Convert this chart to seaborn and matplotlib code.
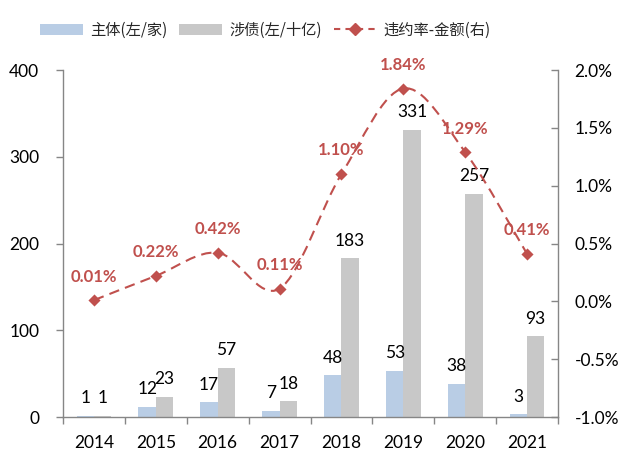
import numpy as np
import pandas as pd
import matplotlib
matplotlib.use("Agg")
import matplotlib.pyplot as plt
import seaborn as sns
from matplotlib.path import Path
from matplotlib.patches import PathPatch, Patch
from matplotlib.lines import Line2D
from matplotlib.ticker import FuncFormatter, FixedLocator

# ---- data ----
years = ["2014", "2015", "2016", "2017", "2018", "2019", "2020", "2021"]
entities = [1, 12, 17, 7, 48, 53, 38, 3]            # 主体(左/家)
bonds = [1, 23, 57, 18, 183, 331, 257, 93]           # 涉债(左/十亿)
default_rate = [0.01, 0.22, 0.42, 0.11, 1.10, 1.84, 1.29, 0.41]  # 违约率-金额(右), %
series_names = ["主体(左/家)", "涉债(左/十亿)", "违约率-金额(右)"]

BLUE = "#B9CDE5"
GRAY = "#C8C8C8"
RED = "#C0504D"
AXC = "#868686"

sns.set_theme(style="white")
plt.rcParams['font.family'] = ['Lato', 'Noto Sans CJK SC', 'DejaVu Sans']

df = pd.DataFrame({
    "year": years * 2,
    "value": entities + bonds,
    "series": [series_names[0]] * len(years) + [series_names[1]] * len(years),
})

fig = plt.figure(figsize=(6.32, 4.65), dpi=100)
ax = fig.add_axes([63 / 632, 1 - 417 / 465, 495 / 632, 347 / 465])

sns.barplot(data=df, x="year", y="value", hue="series", palette=[BLUE, GRAY],
            width=0.56, saturation=1, linewidth=0, ax=ax, legend=False)

for cont in ax.containers:
    ax.bar_label(cont, fmt="%d", padding=7, fontsize=12.5, color="black")

ax.set_xlim(-0.5, len(years) - 0.5)
ax.set_ylim(0, 400)
ax.set_yticks([0, 100, 200, 300, 400])
ax.set_xlabel("")
ax.set_ylabel("")
ax.xaxis.set_minor_locator(FixedLocator(np.arange(-0.5, len(years), 1.0)))
ax.tick_params(axis="x", which="major", length=0, pad=13, labelsize=12.5, colors="black")
ax.tick_params(axis="x", which="minor", bottom=True, length=5, width=1, color=AXC, direction="out")
ax.tick_params(axis="y", left=True, length=5, width=1, color=AXC, direction="out",
               pad=12, labelsize=12.5, labelcolor="black")
for s in ["top", "right"]:
    ax.spines[s].set_visible(False)
for s in ["left", "bottom"]:
    ax.spines[s].set_color(AXC)
    ax.spines[s].set_linewidth(1)

# ---- right axis: smoothed line ----
ax2 = ax.twinx()
ax2.set_ylim(-1.0, 2.0)
ax2.set_yticks(np.arange(-1.0, 2.01, 0.5))
ax2.yaxis.set_major_formatter(FuncFormatter(lambda v, p: f"{v:.1f}%"))
ax2.tick_params(axis="y", right=True, length=5, width=1, color=AXC, direction="in",
                pad=12, labelsize=12.5, labelcolor="black")
for s in ["top", "left", "bottom"]:
    ax2.spines[s].set_visible(False)
ax2.spines["right"].set_color(AXC)
ax2.spines["right"].set_linewidth(1)

xs = np.arange(len(years), dtype=float)
ys = np.array(default_rate, dtype=float)
pts = np.column_stack([xs, ys])
ext = np.vstack([pts[0], pts, pts[-1]])
verts = [tuple(pts[0])]
codes = [Path.MOVETO]
for i in range(len(pts) - 1):
    p0, p1, p2, p3 = ext[i], ext[i + 1], ext[i + 2], ext[i + 3]
    c1 = p1 + (p2 - p0) / 6.0
    c2 = p2 - (p3 - p1) / 6.0
    verts += [tuple(c1), tuple(c2), tuple(p2)]
    codes += [Path.CURVE4] * 3
ax2.add_patch(PathPatch(Path(verts, codes), fill=False, edgecolor=RED, linewidth=1.5,
                        linestyle=(0, (5, 3)), zorder=3))
sns.scatterplot(x=xs, y=ys, marker="D", s=38, color=RED, edgecolor=RED, linewidth=0,
                ax=ax2, zorder=4, legend=False)
for x, y in zip(xs, ys):
    ax2.annotate(f"{y:.2f}%", (x, y), xytext=(0, 17), textcoords="offset points",
                 ha="center", va="center", color=RED, fontsize=12, fontweight="bold")

# ---- legend ----
handles = [
    Patch(facecolor=BLUE, edgecolor="none"),
    Patch(facecolor=GRAY, edgecolor="none"),
    Line2D([0], [0], color=RED, linestyle=(0, (3, 2.5)), linewidth=1.5, marker="D",
           markersize=6, markerfacecolor=RED, markeredgecolor=RED),
]
fig.legend(handles, series_names, loc="center", bbox_to_anchor=(0.42, 0.935), ncol=3,
           frameon=False, handlelength=2.8, handletextpad=0.45, columnspacing=0.8,
           prop={"family": ["Noto Sans CJK SC", "DejaVu Sans"], "size": 11})

fig.savefig("out.png", dpi=100)
